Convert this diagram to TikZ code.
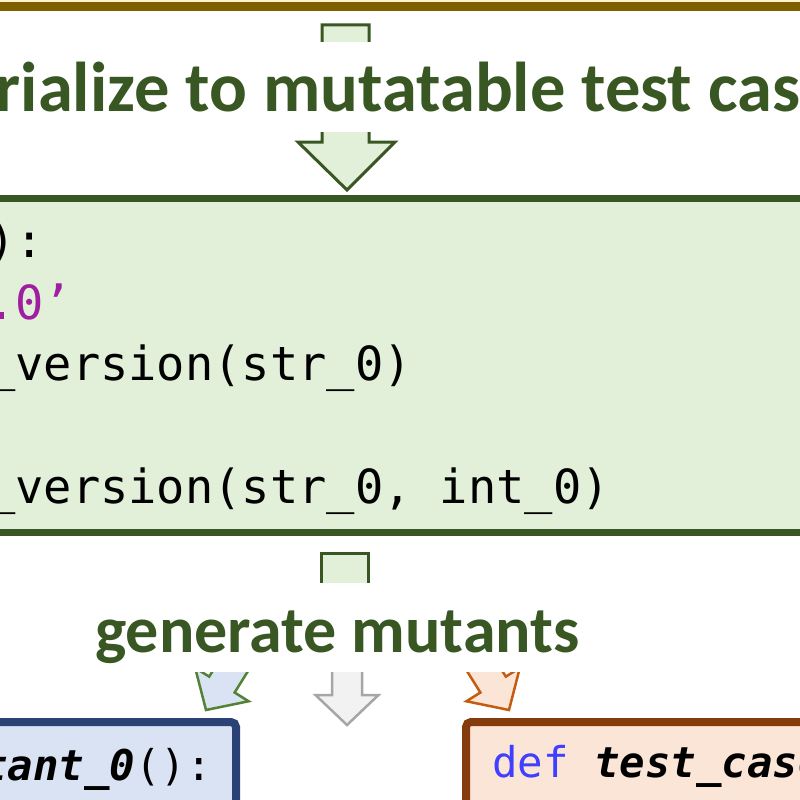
\documentclass[tikz,border=0pt]{standalone}
\usepackage{fontspec}
\newfontfamily\calib{Carlito}
\newfontfamily\codefont{DejaVu Sans Mono}
\definecolor{dgreen}{HTML}{385723}
\definecolor{lgreen}{HTML}{E2F0D9}
\definecolor{goldb}{HTML}{7F6000}
\definecolor{lyellow}{HTML}{FFF2CC}
\definecolor{navyb}{HTML}{2A4374}
\definecolor{lblue}{HTML}{DAE3F3}
\definecolor{brownb}{HTML}{843C0C}
\definecolor{peach}{HTML}{FBE5D6}
\definecolor{agreen}{HTML}{538135}
\definecolor{agray}{HTML}{A6A6A6}
\definecolor{lgray}{HTML}{F2F2F2}
\definecolor{aorange}{HTML}{C55A11}
\definecolor{strmag}{HTML}{9E1FA0}
\definecolor{kwblue}{HTML}{3F3FFF}
\tikzset{
  bigarrow/.style={draw=dgreen, fill=lgreen, line width=3pt, line join=miter},
  smallarrow/.style={line width=2.5pt, line join=miter},
  steplabel/.style={font=\calib\bfseries, text=dgreen, fill=white, inner sep=0pt},
  codeline/.style={font=\codefont\fontsize{47}{55}\selectfont, anchor=base west, inner sep=0pt},
  smallcode/.style={font=\codefont\fontsize{42.4}{50}\selectfont, anchor=base west, inner sep=0pt},
}
\newcommand\smallblockarrow{(0,0) -- (31.5,-30) -- (15,-30) -- (15,-75) -- (-15,-75) -- (-15,-30) -- (-31.5,-30) -- cycle}
\begin{document}
\begin{tikzpicture}[x=1pt,y=-1pt]
\useasboundingbox (0,0) rectangle (800,800);
% upper box (cut off)
\path[draw=goldb, fill=lyellow, line width=9pt] (-30,-60) rectangle (830,7);
% code box
\node[draw=dgreen, fill=lgreen, line width=7pt, inner sep=0pt, minimum width=860pt, minimum height=334pt] (codebox) at (400,365) {};
% lower boxes
\path[draw=navyb, fill=lblue, line width=8pt, rounded corners=5pt] (-40,722) rectangle (236,900);
\coordinate (mutbox) at (100,760);
\path[draw=brownb, fill=peach, line width=8pt, rounded corners=5pt] (466,722) rectangle (860,900);
\coordinate (casebox) at (640,760);
% top block arrow
\path[bigarrow] (322,25) -- (369,25) -- (369,142) -- (395,142) -- (347,190) -- (298,142) -- (322,142) -- cycle;
% generate arrow stem
\path[bigarrow] (321,640) -- (321,553) -- (368,553) -- (368,640);
% three small arrows
\begin{scope}[shift={(206,710)}, rotate=-32]
  \path[smallarrow, draw=agreen, fill=lblue] \smallblockarrow;
\end{scope}
\begin{scope}[shift={(347,725)}]
  \path[smallarrow, draw=agray, fill=lgray] \smallblockarrow;
\end{scope}
\begin{scope}[shift={(509,710)}, rotate=32]
  \path[smallarrow, draw=aorange, fill=peach] \smallblockarrow;
\end{scope}
% step labels
\node[steplabel, font=\calib\bfseries\fontsize{70.5}{80}\selectfont, anchor=base west, text height=69pt, text depth=21pt] (serial) at (263,111) {\llap{erialize to }mutatable test case};
\node[steplabel, font=\calib\bfseries\fontsize{66}{72}\selectfont, anchor=base, text height=69pt, text depth=20pt] (gen) at (337.5,652) {generate mutants};
% code lines
\node[codeline] (c1) at (-13,257) {):};
\node[codeline, text=strmag] (c2) at (-13,319) {.0’};
\node[codeline] (c3) at (-13,380) {\_version(str\_0)};
\node[codeline] (c5) at (-13,503) {\_version(str\_0, int\_0)};
% lower box code
\node[smallcode] (m0) at (-18,780) {\bfseries\itshape tant\_0\mdseries\upshape ():};
\node[smallcode] (tc) at (492,777) {\textcolor{kwblue}{def} \bfseries\itshape test\_case};
\end{tikzpicture}
\end{document}
